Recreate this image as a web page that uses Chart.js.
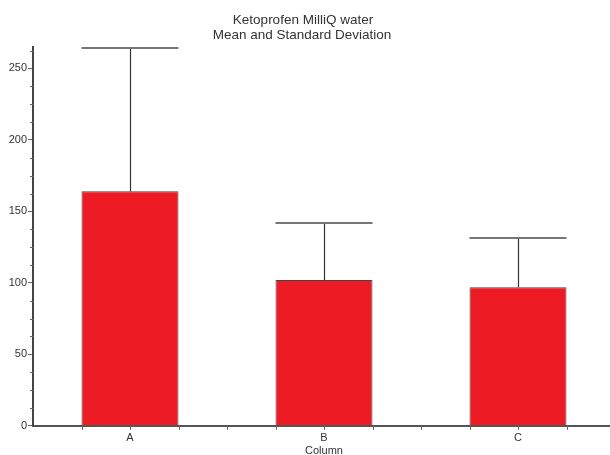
<!DOCTYPE html>
<html>
<head>
<meta charset="utf-8">
<script src="https://cdn.jsdelivr.net/npm/chart.js@4"></script>
<style>
  html, body { margin: 0; padding: 0; background: #fff; overflow: hidden; }
  #wrap { width: 615px; height: 455px; }
</style>
</head>
<body>
<div id="wrap"><canvas id="grafik"></canvas></div>
<script>
// Data
const kategori = ['A', 'B', 'C'];
const rataRata = [164, 102, 97];
const simpanganBaku = [100, 40, 34.5];
const judul = ['Ketoprofen MilliQ water', 'Mean and Standard Deviation'];
const judulX = 'Column';

const warnaTeks = '#333333';
const fontDasar = 'Liberation Sans, Arial';

// Error bars, minor ticks, titles
const errorBarPlugin = {
    id: 'errorBar',
    afterDatasetsDraw(chart) {
        const ctx = chart.ctx;
        const y = chart.scales.y;
        const meta = chart.getDatasetMeta(0);
        ctx.save();
        meta.data.forEach((bar, i) => {
            const cx = Math.round(bar.x) + 0.5;
            const yTop = y.getPixelForValue(rataRata[i] + simpanganBaku[i]);
            const yMean = y.getPixelForValue(rataRata[i]);
            const half = bar.width / 2;
            // vertical line
            ctx.strokeStyle = '#333';
            ctx.lineWidth = 1.2;
            ctx.beginPath();
            ctx.moveTo(cx, yMean);
            ctx.lineTo(cx, yTop);
            ctx.stroke();
            // cap
            ctx.strokeStyle = '#777';
            ctx.lineWidth = 2;
            ctx.beginPath();
            ctx.moveTo(bar.x - half, Math.round(yTop));
            ctx.lineTo(bar.x + half, Math.round(yTop));
            ctx.stroke();
        });
        ctx.restore();
    },
    afterDraw(chart) {
        const ctx = chart.ctx;
        const y = chart.scales.y;
        const area = chart.chartArea;
        const meta = chart.getDatasetMeta(0);
        ctx.save();
        ctx.strokeStyle = '#666';
        ctx.lineWidth = 1;
        // minor y ticks
        for (let v = 12.5; v < y.max; v += 12.5) {
            if (v % 50 === 0) continue;
            const py = Math.round(y.getPixelForValue(v)) + 0.5;
            ctx.beginPath();
            ctx.moveTo(area.left - 3, py);
            ctx.lineTo(area.left, py);
            ctx.stroke();
        }
        // x ticks: centers, category boundaries, bar edges
        const lebar = (area.right - area.left) / kategori.length;
        const posisi = [];
        for (let i = 1; i < kategori.length; i++) posisi.push(area.left + lebar * i);
        meta.data.forEach(bar => {
            posisi.push(bar.x);
            posisi.push(bar.x - bar.width / 2);
            posisi.push(bar.x + bar.width / 2);
        });
        posisi.forEach(px => {
            const p = Math.round(px) + 0.5;
            ctx.beginPath();
            ctx.moveTo(p, area.bottom);
            ctx.lineTo(p, area.bottom + 4);
            ctx.stroke();
        });
        ctx.fillStyle = warnaTeks;
        ctx.textAlign = 'center';
        ctx.textBaseline = 'middle';
        // x axis title
        ctx.font = '11px ' + fontDasar;
        ctx.fillText(judulX, (area.left + area.right) / 2, area.bottom + 25);
        // chart title (centred on the visible 610px window)
        ctx.font = '13.5px ' + fontDasar;
        ctx.fillText(judul[0], 303, 20.5);
        ctx.fillText(judul[1], 302, 35.5);
        ctx.restore();
    }
};

const data = {
    labels: kategori,
    datasets: [{
        label: 'Mean',
        data: rataRata,
        backgroundColor: '#ed1c24',
        borderColor: '#444',
        borderWidth: { top: 1, left: 1, right: 1, bottom: 0 },
        borderSkipped: 'bottom',
        barPercentage: 0.5,
        categoryPercentage: 1.0,
    }]
};

const options = {
    responsive: true,
    maintainAspectRatio: false,
    animation: false,
    layout: {
        padding: { top: 47, right: 0, bottom: 4, left: 0 }
    },
    scales: {
        x: {
            offset: true,
            grid: { display: false, drawTicks: false },
            border: { display: true, color: '#555', width: 2 },
            ticks: {
                color: warnaTeks,
                font: { family: fontDasar, size: 11 },
                padding: 6,
                maxRotation: 0,
            }
        },
        y: {
            min: 0,
            max: 265,
            afterFit(scale) { scale.width = 33; },
            afterBuildTicks(scale) {
                scale.ticks = scale.ticks.filter(t => t.value % 50 === 0);
            },
            grid: { drawOnChartArea: false, tickLength: 5, color: '#666' },
            border: { display: true, color: '#444', width: 2 },
            ticks: {
                stepSize: 50,
                color: warnaTeks,
                font: { family: fontDasar, size: 11 },
                padding: 1,
            }
        }
    },
    plugins: {
        legend: { display: false },
        tooltip: { enabled: false },
        title: { display: false }
    }
};

new Chart(document.getElementById('grafik'), {
    type: 'bar',
    data: data,
    options: options,
    plugins: [errorBarPlugin],
});
</script>
</body>
</html>
